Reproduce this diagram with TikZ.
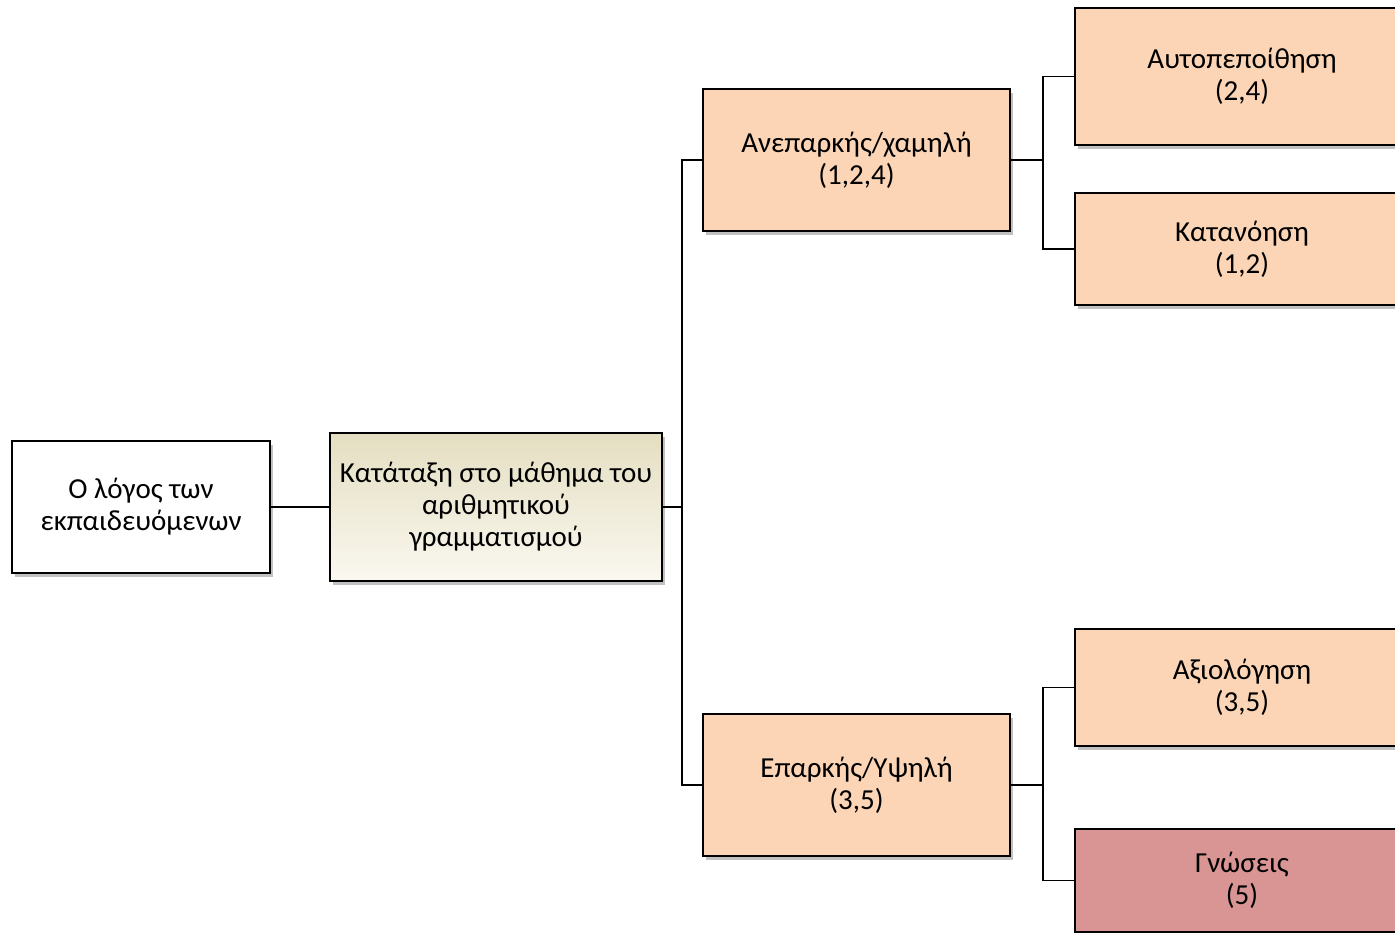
\documentclass[tikz,border=0pt]{standalone}
\usepackage{fontspec}
\setmainfont{Carlito}
\usetikzlibrary{shadows}
\definecolor{peach}{HTML}{FBD5B5}
\definecolor{rose}{HTML}{D99594}
\definecolor{olivetop}{HTML}{E4DEC1}
\definecolor{olivebot}{HTML}{FAF8F0}
\tikzset{
  box/.style={draw=black, line width=1.6pt, inner sep=0pt, align=center,
    font=\fontsize{29}{32}\selectfont,
    drop shadow={shadow xshift=2.5pt, shadow yshift=-4pt, fill=black!60, opacity=0.4}},
  link/.style={line width=1.6pt, black}
}
\begin{document}
\begin{tikzpicture}[x=1pt, y=-1pt]
    \clip (0,0) rectangle (1395,932);
    \fill[white] (0,0) rectangle (1395,932);
    % Left boxes
    \node[box, fill=white, minimum width=258pt, minimum height=132pt] (logos) at (141,507) {Ο λόγος των\\εκπαιδευόμενων};
    \node[box, top color=olivetop, bottom color=olivebot, minimum width=332pt, minimum height=148pt] (katataxi) at (496,507) {Κατάταξη στο μάθημα του\\αριθμητικού\\γραμματισμού};
    % Levels
    \node[box, fill=peach, minimum width=307pt, minimum height=142pt] (low) at (856.5,160) {Ανεπαρκής/χαμηλή\\(1,2,4)};
    \node[box, fill=peach, minimum width=307pt, minimum height=142pt] (high) at (856.5,785) {Επαρκής/Υψηλή\\(3,5)};
    % Right boxes
    \node[box, fill=peach, minimum width=334pt, minimum height=137pt] (autop) at (1242,76.5) {Αυτοπεποίθηση\\(2,4)};
    \node[box, fill=peach, minimum width=334pt, minimum height=112pt] (katan) at (1242,249) {Κατανόηση\\(1,2)};
    \node[box, fill=peach, minimum width=334pt, minimum height=117pt] (axiol) at (1242,687.5) {Αξιολόγηση\\(3,5)};
    \node[box, fill=rose, minimum width=334pt, minimum height=103pt] (gnoseis) at (1242,880.5) {Γνώσεις\\(5)};
    % Connectors
    \coordinate (forkmid) at (682,507);
    \coordinate (forklow) at (1043,160);
    \coordinate (forkhigh) at (1043,785);
    \draw[link] (logos) -- (katataxi);
    \draw[link] (katataxi.east) -- (forkmid);
    \draw[link] (low.west) -| (forkmid) |- (high.west);
    \draw[link] (low.east) -- (forklow);
    \draw[link] (autop.west) -| (forklow) |- (katan.west);
    \draw[link] (high.east) -- (forkhigh);
    \draw[link] (axiol.west) -| (forkhigh) |- (gnoseis.west);
\end{tikzpicture}
\end{document}
